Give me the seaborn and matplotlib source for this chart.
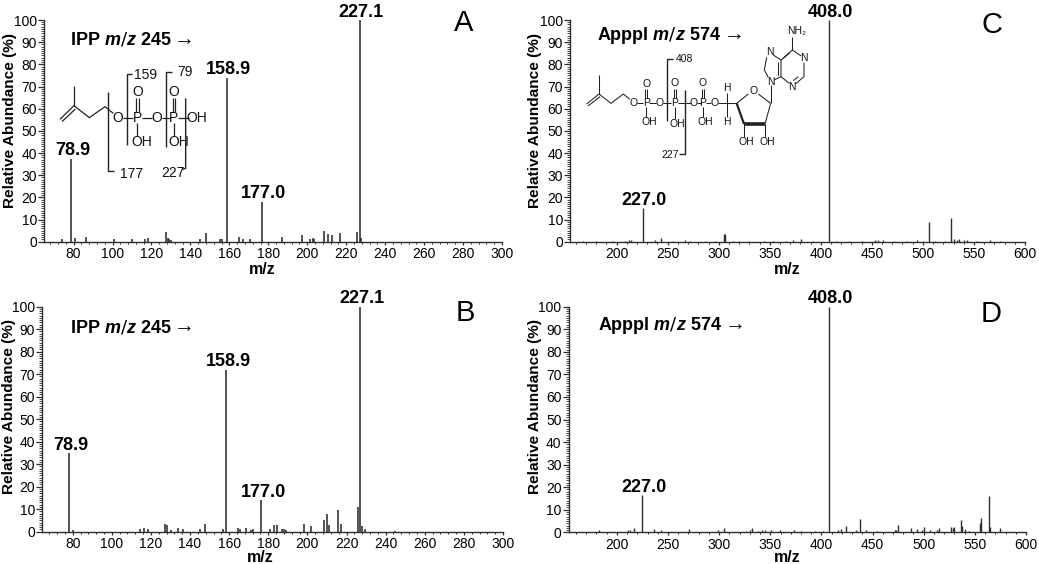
import numpy as np
import pandas as pd
import matplotlib
matplotlib.use('Agg')
import matplotlib.pyplot as plt
from matplotlib.ticker import MultipleLocator
import seaborn as sns

# peaks
mz_a = [74.3, 78.6, 80.5, 86.3, 100.5, 109.8, 116.8, 118.4, 127.6, 128.3, 129, 130.2, 144.7, 147.8, 155, 156.4,
        158.6, 165, 167, 170.8, 176.6, 186.8, 197.5, 201.6, 203, 203.6, 208.6, 210.8, 212.7, 217, 225.7, 226.9, 227.8]
ab_a = [1.2, 37.5, 1.6, 2, 1, 1.1, 1, 1.5, 4.3, 1.8, 1, 0.7, 1, 3.7, 1, 1.4,
        74, 2.2, 1, 1.3, 18, 2.3, 3.1, 1.4, 1.7, 1.2, 4.8, 3.5, 2.8, 3.7, 4.4, 100, 1.8]

mz_b = [78.3, 80, 114.4, 116.3, 118.4, 127.2, 128.3, 130.5, 134, 136.4, 145.3, 147.4, 156.6, 158.6, 164.4, 165.6,
        168.7, 171.2, 172.4, 176.5, 181, 182.7, 184.7, 186.8, 187.8, 188.8, 198.5, 202, 208.5, 209.8, 211, 215.7,
        217, 226, 226.8, 227.7, 229.2, 244.6]
ab_b = [35, 0.8, 1, 1.7, 1.3, 3.3, 2.8, 0.7, 1.7, 1, 1, 3.5, 1, 72, 1.8, 1.4,
        1.5, 0.7, 1, 14, 1, 2.8, 2.8, 1.2, 1.2, 0.6, 3.5, 2.5, 5, 7.8, 3, 9.5,
        3.3, 11, 100, 2.5, 1, 0.5]

mz_c = [167, 180, 196, 208, 212, 214, 225.5, 237.6, 243.4, 255, 267, 272, 287, 296, 305.1, 306, 314, 320, 330, 344,
        353.5, 366, 373, 381, 392, 408, 415, 428, 440, 453, 456, 460.6, 472, 484, 494, 500, 505.6, 512, 522, 527.8,
        530, 533, 535, 540, 543, 553, 565.7, 575.5]
ab_c = [0.5, 0.4, 0.4, 0.4, 0.8, 0.7, 15, 0.8, 1.8, 0.4, 0.8, 0.4, 0.4, 0.4, 3.5, 3.5, 0.5, 0.4, 0.5, 0.4,
        0.5, 0.4, 0.8, 1.2, 0.4, 100, 0.4, 0.4, 0.4, 0.6, 0.6, 0.8, 0.4, 0.4, 0.6, 0.4, 8.8, 0.5, 0.4, 10.5,
        1, 0.9, 1.1, 0.7, 0.8, 0.5, 0.6, 0.5]

mz_d = [183, 210.4, 212.7, 216.6, 224.8, 235.9, 242.7, 271, 299, 305, 326, 330.4, 331.7, 337.5, 342, 345, 351,
        359.5, 373, 380, 394, 401.5, 407, 415.8, 418.8, 424, 433.5, 437.7, 443.3, 454, 472, 473, 475, 488, 493,
        498.5, 500, 506, 513, 515, 526.7, 529, 530, 536.4, 537.4, 540.6, 544.6, 554.7, 556, 563.8, 565, 575]
ab_d = [1, 0.8, 1, 1.8, 16.5, 1.3, 0.8, 1.5, 1, 1.7, 0.7, 1.2, 2, 0.7, 0.8, 0.9, 0.9,
        0.8, 1, 0.7, 0.7, 0.7, 100, 0.8, 1.3, 2.8, 0.8, 5.8, 1, 0.6, 0.8, 0.9, 3.3, 2, 1.5,
        1.2, 2.3, 1.2, 1.2, 2, 2.2, 1.8, 2.3, 5.3, 3, 1.3, 0.7, 4, 6.3, 16, 2.2, 1.8]

labels_a = [(78.6, 37.5, '78.9'), (158.6, 74, '158.9'), (176.6, 18, '177.0'), (226.9, 100, '227.1')]
labels_b = [(78.3, 35, '78.9'), (158.6, 72, '158.9'), (176.5, 14, '177.0'), (226.8, 100, '227.1')]
labels_c = [(225.5, 15, '227.0'), (408, 100, '408.0')]
labels_d = [(224.8, 16.5, '227.0'), (407, 100, '408.0')]

sns.set_theme(style='ticks')
plt.rcParams['font.family'] = ['Liberation Sans', 'DejaVu Sans']
plt.rcParams['text.color'] = 'black'
plt.rcParams['mathtext.fontset'] = 'custom'
plt.rcParams['mathtext.it'] = 'Liberation Sans:italic:bold'
plt.rcParams['mathtext.default'] = 'regular'

W, H = 1039, 564
INK = '#2e2e2e'
fig = plt.figure(figsize=(W / 100, H / 100), dpi=100)

# overlay in pixel coordinates for the structures and free text
ov = fig.add_axes([0, 0, 1, 1], zorder=5)
ov.set_xlim(0, W)
ov.set_ylim(H, 0)
ov.axis('off')


def spectrum(mz, ab, labels, box, xlim, xmajor, xminor, lw, xlabel_px, ylabel_px):
    left, right, top, bottom = box
    ax = fig.add_axes([left / W, 1 - bottom / H, (right - left) / W, (bottom - top) / H])
    rows = []
    for i, (m, a) in enumerate(zip(mz, ab)):
        rows.append({'peak': i, 'mz': m, 'ab': 0})
        rows.append({'peak': i, 'mz': m, 'ab': a})
    df = pd.DataFrame(rows)
    sns.lineplot(data=df, x='mz', y='ab', units='peak', estimator=None, color=INK, lw=lw, ax=ax,
                 legend=False, solid_capstyle='butt')
    ax.set_xlim(*xlim)
    ax.set_ylim(0, 100)
    sns.despine(ax=ax)
    for s in ['left', 'bottom']:
        ax.spines[s].set_linewidth(1.0)
        ax.spines[s].set_color(INK)
    ax.xaxis.set_major_locator(MultipleLocator(xmajor))
    ax.xaxis.set_minor_locator(MultipleLocator(xminor))
    ax.yaxis.set_major_locator(MultipleLocator(10))
    ax.yaxis.set_minor_locator(MultipleLocator(1))
    ax.tick_params(axis='y', which='major', labelsize=10, length=4, width=0.9, pad=1, color=INK, labelcolor='black')
    ax.tick_params(axis='x', which='major', labelsize=10, length=2.5, width=0.9, pad=1.5, color=INK, labelcolor='black')
    ax.tick_params(axis='y', which='minor', length=2.2, width=0.6, color=INK)
    ax.tick_params(axis='x', which='minor', length=1.5, width=0.7, color=INK)
    ax.set_xlabel('m/z', fontsize=11.5, fontweight='bold', color='black')
    ax.set_ylabel('Relative Abundance (%)', fontsize=11.1, fontweight='bold', color='black')
    ax.xaxis.set_label_coords((xlabel_px[0] - left) / (right - left), (bottom - xlabel_px[1]) / (bottom - top))
    ax.yaxis.set_label_coords((ylabel_px[0] - left) / (right - left), (bottom - ylabel_px[1]) / (bottom - top))
    ax.xaxis.label.set_verticalalignment('center')
    ax.yaxis.label.set_verticalalignment('center')
    for x, y, t in labels:
        ax.annotate(t, (x, y), xytext=(1.2, -0.5), textcoords='offset points', ha='center', va='bottom',
                    fontsize=13, fontweight='bold', color='black', annotation_clip=False)
    return ax


spectrum(mz_a, ab_a, labels_a, (44, 502, 20, 241.7), (64.8, 300), 20, 4, 1.15, (262, 270), (10, 120))
spectrum(mz_b, ab_b, labels_b, (42, 503, 306.7, 531.7), (64.3, 300), 20, 4, 1.15, (260, 558), (9, 407))
spectrum(mz_c, ab_c, labels_c, (570, 1025, 20, 241.7), (154.3, 600), 50, 10, 1.0, (787, 270), (535, 120))
spectrum(mz_d, ab_d, labels_d, (568.5, 1026, 306.7, 532.3), (152.7, 600), 50, 10, 1.0, (787, 558), (535, 406))

# panel headers and letters
for x, y, name, mass, arrow_x in [(70, 40, 'IPP', '245', 184.5), (70, 327, 'IPP', '245', 184.5),
                                  (597, 35, 'Apppl', '574', 734), (598, 325, 'Apppl', '574', 735)]:
    ov.text(x, y, rf'{name} $\mathit{{m/z}}$ {mass}', fontsize=13, fontweight='bold', va='center', ha='left')
    ov.text(arrow_x, y, '→', fontsize=15, va='center', ha='center', family=['Liberation Sans', 'DejaVu Sans'])
for x, y, t in [(464, 23, 'A'), (465, 313, 'B'), (992, 25, 'C'), (991, 314, 'D')]:
    ov.text(x, y, t, fontsize=21, va='center', ha='center')


def draw_bonds(origin, segs, lw=0.9):
    for seg in segs:
        xs = [origin[0] + p[0] / 3 for p in seg]
        ys = [origin[1] + p[1] / 3 for p in seg]
        ov.plot(xs, ys, color='#222222', lw=lw, solid_capstyle='butt', solid_joinstyle='miter')


def draw_atoms(origin, atoms, size):
    for x, y, t in atoms:
        ov.text(origin[0] + x / 3, origin[1] + y / 3, t, fontsize=size, ha='center', va='center', color='#111111')


# IPP structure (panel A)
org_a = (50, 70)
draw_bonds(org_a, [
    [(30, 148), (72, 107)], [(36, 155), (76, 117)], [(72, 107), (72, 48)],
    [(72, 107), (118, 143), (165, 110), (190, 130)],
    [(218, 143), (250, 143)], [(258, 125), (258, 85)], [(266, 125), (266, 85)], [(262, 158), (262, 198)],
    [(275, 143), (305, 143)], [(335, 143), (360, 143)], [(368, 125), (368, 85)], [(376, 125), (376, 85)],
    [(372, 158), (372, 198)], [(385, 143), (418, 143)],
])
draw_bonds(org_a, [
    [(230, 225), (230, 12), (247, 12)], [(348, 230), (348, 5), (365, 5)],
    [(173, 65), (173, 303), (193, 303)], [(407, 85), (407, 295), (395, 298)],
], lw=1.0)
draw_atoms(org_a, [(203, 143, 'O'), (262, 143, 'P'), (262, 66, 'O'), (275, 215, 'OH'), (320, 143, 'O'),
                   (372, 143, 'P'), (372, 66, 'O'), (385, 215, 'OH'), (440, 143, 'OH')], 10)
draw_atoms(org_a, [(287, 15, '159'), (404, 6, '79'), (245, 313, '177'), (370, 310, '227')], 10)

# Apppl structure (panel C)
org_c = (580, 20)
draw_bonds(org_c, [
    [(20, 252), (57, 222)], [(24, 258), (60, 230)], [(57, 222), (57, 165)],
    [(57, 222), (93, 250), (130, 222), (150, 238)],
    [(172, 250), (190, 250)], [(196, 235), (196, 208)], [(202, 235), (202, 208)], [(199, 262), (199, 292)],
    [(208, 250), (228, 250)], [(248, 250), (272, 250)], [(281, 235), (281, 208)], [(287, 235), (287, 208)],
    [(284, 262), (284, 298)], [(295, 250), (333, 250)], [(352, 250), (362, 250)], [(366, 235), (366, 208)],
    [(372, 235), (372, 208)], [(369, 262), (369, 292)], [(378, 250), (393, 250)], [(414, 250), (470, 250)],
    [(440, 218), (440, 290)], [(470, 250), (505, 222)], [(535, 222), (572, 250)], [(572, 250), (555, 312)],
    [(492, 312), (492, 350)], [(555, 312), (555, 350)], [(572, 250), (572, 195)],
    [(565, 172), (553, 150), (560, 112)], [(580, 105), (603, 120), (603, 170), (582, 180)],
    [(595, 125), (595, 165)], [(603, 170), (628, 190)], [(646, 192), (672, 170), (672, 128)],
    [(655, 170), (640, 182)], [(664, 108), (637, 90), (603, 120)], [(637, 90), (637, 50)], [(630, 98), (610, 115)],
], lw=0.75)
draw_bonds(org_c, [[(492, 312), (555, 312)]], lw=2.6)
draw_bonds(org_c, [[(470, 250), (492, 312)]], lw=1.6)
draw_bonds(org_c, [[(262, 302), (262, 118), (278, 118)], [(315, 210), (315, 403), (298, 403)]], lw=1.0)
draw_atoms(org_c, [(161, 250, 'O'), (199, 250, 'P'), (199, 193, 'O'), (207, 305, 'OH'), (238, 250, 'O'),
                   (284, 250, 'P'), (284, 190, 'O'), (292, 312, 'OH'), (342, 250, 'O'), (369, 250, 'P'),
                   (369, 190, 'O'), (377, 305, 'OH'), (404, 250, 'O'), (440, 203, 'H'), (440, 305, 'H'),
                   (521, 212, 'O'), (500, 365, 'OH'), (562, 365, 'OH'), (572, 185, 'N'), (569, 97, 'N'),
                   (637, 200, 'N'), (672, 115, 'N'), (650, 32, 'NH₂')], 7.5)
draw_atoms(org_c, [(313, 118, '408'), (270, 405, '227')], 7.5)

plt.savefig('out.png', dpi=100)
plt.close()
